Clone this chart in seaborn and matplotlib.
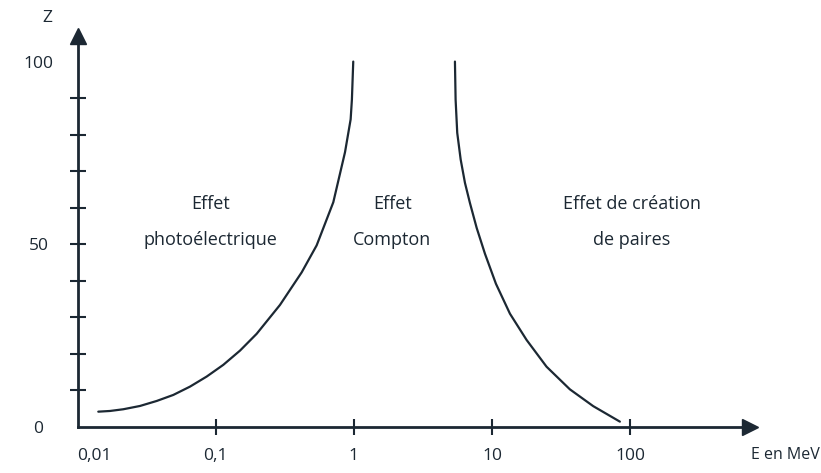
import matplotlib
matplotlib.use("Agg")
import matplotlib.pyplot as plt
import pandas as pd
import seaborn as sns

# Boundary between photoelectric and Compton domains (E in MeV, Z)
energy_photo = [0.01414, 0.01719, 0.02145, 0.02833, 0.03743, 0.04935, 0.06516, 0.0861,
                0.1135, 0.150, 0.198, 0.292, 0.419, 0.538, 0.71, 0.863, 0.948,
                0.968, 0.99]
z_photo = [4.19, 4.38, 4.85, 5.75, 7.12, 8.77, 11.04, 13.8,
           17.0, 20.9, 25.5, 33.4, 42.3, 49.7, 61.5, 75.2, 84.2,
           89.6, 100.0]

# Boundary between Compton and pair-production domains
energy_pair = [5.39, 5.45, 5.60, 5.93, 6.37, 6.92, 7.74, 8.89, 10.67,
               13.48, 17.8, 24.8, 36.6, 54.0, 84.2]
z_pair = [100.0, 89.6, 80.5, 73.2, 66.8, 61.3, 54.5, 47.4, 39.2,
          31.0, 23.8, 16.5, 10.3, 5.7, 1.46]

x_ticks = [0.01, 0.1, 1, 10, 100]
x_tick_labels = ["0,01", "0,1", "1", "10", "100"]
y_ticks = [0, 50, 100]
y_tick_labels = ["0", "50", "100"]
y_minor_ticks = [10, 20, 30, 40, 60, 70, 80, 90]

region_labels = ["Effet\nphotoélectrique", "Effet\nCompton", "Effet de création\nde paires"]
region_energy = [0.092, 1.9, 103]
region_z = [56, 56, 56]

ink = "#1c2833"

sns.set_theme(style="white")
plt.rcParams["font.family"] = ["Open Sans", "DejaVu Sans"]

fig = plt.figure(figsize=(8.21, 4.73), dpi=100)
ax = fig.add_axes([0.0944, 0.0973, 0.819, 0.8266])

photo = pd.DataFrame({"E": energy_photo, "Z": z_photo})
pair = pd.DataFrame({"E": energy_pair, "Z": z_pair})
for frame in (photo, pair):
    sns.lineplot(data=frame, x="E", y="Z", sort=False, color=ink, lw=1.6, ax=ax,
                 solid_joinstyle="round", solid_capstyle="round")

ax.set_xscale("log")
ax.set_xlim(0.01, 735)
ax.set_ylim(0, 107)
ax.set_xlabel("")
ax.set_ylabel("")

for side in ("top", "right"):
    ax.spines[side].set_visible(False)
for side in ("left", "bottom"):
    ax.spines[side].set_color(ink)
    ax.spines[side].set_linewidth(2.0)

# x axis: decades with comma decimal labels
ax.set_xticks(x_ticks)
ax.set_xticklabels(x_tick_labels)
ax.set_xticks([], minor=True)
ax.tick_params(axis="x", which="major", bottom=True, direction="inout", length=12,
               width=1.5, color=ink, pad=9, labelsize=12.5, labelcolor=ink)
ax.xaxis.get_major_ticks()[0].tick1line.set_visible(False)
ax.get_xticklabels()[0].set_horizontalalignment("left")

# y axis: labelled 0/50/100 with graduations every 10
ax.set_yticks(y_ticks)
ax.set_yticklabels(y_tick_labels)
ax.set_yticks(y_minor_ticks, minor=True)
ax.tick_params(axis="y", which="both", left=True, direction="inout", length=12,
               width=1.5, color=ink, pad=22, labelsize=12.5, labelcolor=ink)
ax.yaxis.get_major_ticks()[0].tick1line.set_visible(False)
ax.yaxis.get_major_ticks()[2].tick1line.set_visible(False)
for lab in ax.get_yticklabels():
    lab.set_horizontalalignment("center")

# arrow heads
ax.plot(1, 0, ">", transform=ax.transAxes, clip_on=False, ms=11, color=ink)
ax.plot(0, 1, "^", transform=ax.transAxes, clip_on=False, ms=11, color=ink)

fig.text(0.058, 0.962, "Z", fontsize=12.5, color=ink, ha="center", va="center")
fig.text(0.957, 0.038, "E en MeV", fontsize=11.5, color=ink, ha="center", va="center")

for text, e, z in zip(region_labels, region_energy, region_z):
    ax.text(e, z, text, fontsize=13, color=ink, ha="center", va="center",
            linespacing=2.3)

fig.savefig("out.png", dpi=100)
